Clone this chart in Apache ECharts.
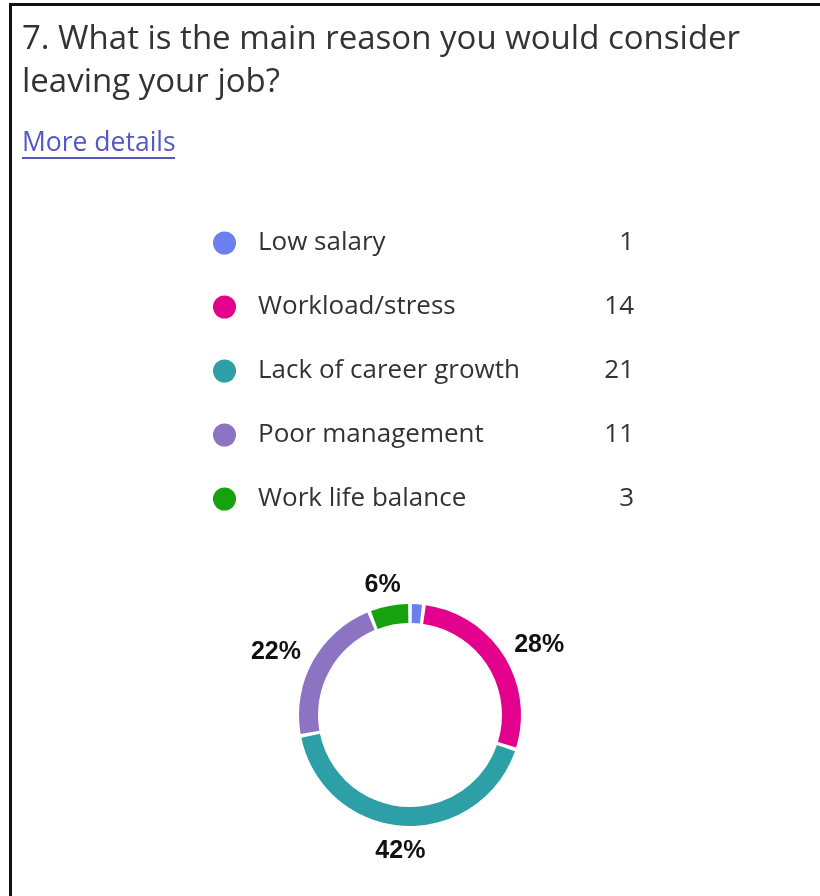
<!DOCTYPE html>
<html>
<head>
<meta charset="utf-8">
<script src="https://cdn.jsdelivr.net/npm/echarts@6/dist/echarts.min.js"></script>
<style>
  html, body { margin: 0; padding: 0; background: #fff; }
  #chart { width: 820px; height: 896px; }
</style>
</head>
<body>
<div id="chart"></div>
<script>
// Survey answers for question 7
const reasons = ['Low salary', 'Workload/stress', 'Lack of career growth', 'Poor management', 'Work life balance'];
const counts = [1, 14, 21, 11, 3];
const colors = ['#6b80ee', '#e3008c', '#2ca0a6', '#8d74c3', '#16a10f'];
const questionTitle = '7. What is the main reason you would consider\nleaving your job?';
const detailsLink = 'More details';

// Ring geometry
const CX = 410, CY = 715, R_IN = 92, R_OUT = 111;
const FONT = '"Open Sans", sans-serif';

const chart = echarts.init(document.getElementById('chart'));

const countByName = {};
reasons.forEach((n, i) => { countByName[n] = counts[i]; });

chart.setOption({
  animation: false,
  backgroundColor: '#fff',
  color: colors,
  title: {
    text: questionTitle,
    left: 22,
    top: 18,
    padding: 0,
    textStyle: {
      fontFamily: FONT,
      fontSize: 33,
      fontWeight: 'normal',
      lineHeight: 43,
      color: '#333'
    }
  },
  legend: {
    orient: 'vertical',
    left: 213,
    top: 230,
    padding: 0,
    icon: 'circle',
    itemWidth: 23,
    itemHeight: 23,
    itemGap: 38,
    selectedMode: false,
    data: reasons,
    formatter: name => '{n|' + name + '}{v|' + countByName[name] + '}',
    textStyle: {
      fontFamily: FONT,
      fontSize: 26,
      color: '#333',
      lineHeight: 23,
      rich: {
        n: { fontFamily: FONT, fontSize: 26, color: '#333', lineHeight: 23, width: 330, padding: [0, 0, 0, 17] },
        v: { fontFamily: FONT, fontSize: 26, color: '#333', lineHeight: 23, width: 46, align: 'right' }
      }
    }
  },
  graphic: [
    { type: 'rect', shape: { x: 9, y: 3, width: 811, height: 3 }, style: { fill: '#111' } },
    { type: 'rect', shape: { x: 9, y: 3, width: 3, height: 893 }, style: { fill: '#111' } },
    {
      type: 'text', x: 22, y: 143,
      style: { text: detailsLink, fontFamily: FONT, fontSize: 26.5, fill: '#5558c4', verticalAlign: 'middle' }
    },
    { type: 'rect', shape: { x: 22, y: 157, width: 153, height: 2 }, style: { fill: '#5558c4' } }
  ],
  series: [{
    type: 'pie',
    center: [CX, CY],
    radius: [R_IN, R_OUT],
    startAngle: 90,
    clockwise: true,
    padAngle: 2,
    percentPrecision: 0,
    minShowLabelAngle: 10,
    silent: true,
    itemStyle: { borderWidth: 0 },
    label: {
      show: true,
      position: 'inside',
      formatter: '{d}%',
      fontFamily: '"Liberation Sans", Arial, sans-serif',
      fontWeight: 'bold',
      fontSize: 25,
      color: '#111'
    },
    labelLine: { show: false },
    // push each percentage out along its slice's mid-angle until it clears the ring
    labelLayout: function (p) {
      const r = p.labelRect;
      const lx = r.x + r.width / 2, ly = r.y + r.height / 2;
      const dx = lx - CX, dy = ly - CY;
      const n = Math.hypot(dx, dy) || 1;
      const ux = dx / n, uy = dy / n;
      return {
        x: CX + ux * (R_OUT + 17 + r.width / 2),
        y: CY + uy * (R_OUT + 11 + r.height / 2) + 2,
        align: 'center',
        verticalAlign: 'middle'
      };
    },
    data: reasons.map((n, i) => ({ name: n, value: counts[i] }))
  }]
});
</script>
</body>
</html>
